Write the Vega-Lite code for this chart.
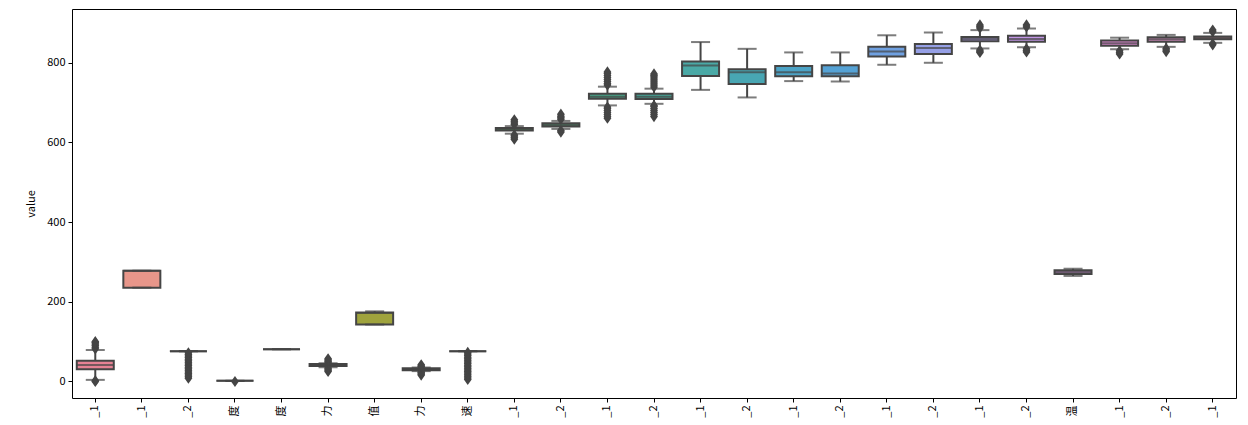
{
  "$schema": "https://vega.github.io/schema/vega-lite/v6.json",
  "width": 1164,
  "height": 389,
  "autosize": {"type": "none"},
  "padding": {"left": 72, "top": 9, "right": 12, "bottom": 27},
  "background": "white",
  "config": {
    "view": {"stroke": "#000000", "strokeWidth": 1},
    "font": "Noto Sans CJK SC",
    "axis": {"grid": false, "domain": false, "tickColor": "#000000", "tickSize": 4, "labelColor": "#000000", "labelFontSize": 11, "titleFontWeight": "normal", "titleFontSize": 11, "titleColor": "#000000"}
  },
  "datasets": {
    "box": [
      {"k": 0, "lo": 4, "q1": 30.6, "med": 41.4, "q3": 52.2, "hi": 79},
      {"k": 1, "lo": 235.5, "q1": 235.5, "med": 278, "q3": 278, "hi": 278},
      {"k": 2, "lo": 76, "q1": 76, "med": 76, "q3": 76, "hi": 76},
      {"k": 3, "lo": 1.5, "q1": 1.5, "med": 1.5, "q3": 1.5, "hi": 1.5},
      {"k": 4, "lo": 81, "q1": 81, "med": 81, "q3": 81, "hi": 81},
      {"k": 5, "lo": 36, "q1": 39, "med": 41, "q3": 44, "hi": 46},
      {"k": 6, "lo": 143, "q1": 143, "med": 172, "q3": 173, "hi": 176},
      {"k": 7, "lo": 26, "q1": 28, "med": 30.5, "q3": 33, "hi": 35},
      {"k": 8, "lo": 76, "q1": 76, "med": 76, "q3": 76, "hi": 76},
      {"k": 9, "lo": 622, "q1": 630, "med": 633, "q3": 636, "hi": 641},
      {"k": 10, "lo": 634, "q1": 640, "med": 644, "q3": 648, "hi": 654},
      {"k": 11, "lo": 693, "q1": 710, "med": 715, "q3": 722, "hi": 740},
      {"k": 12, "lo": 697, "q1": 709, "med": 715, "q3": 722, "hi": 735},
      {"k": 13, "lo": 732, "q1": 767, "med": 793, "q3": 803, "hi": 852},
      {"k": 14, "lo": 713, "q1": 747, "med": 776, "q3": 784, "hi": 835},
      {"k": 15, "lo": 754, "q1": 766, "med": 776, "q3": 792, "hi": 826},
      {"k": 16, "lo": 753, "q1": 766, "med": 773, "q3": 794, "hi": 826},
      {"k": 17, "lo": 795, "q1": 816, "med": 828, "q3": 840, "hi": 869},
      {"k": 18, "lo": 800, "q1": 822, "med": 837, "q3": 847, "hi": 876},
      {"k": 19, "lo": 836, "q1": 854, "med": 860, "q3": 865, "hi": 882},
      {"k": 20, "lo": 839, "q1": 853, "med": 860, "q3": 868, "hi": 886},
      {"k": 21, "lo": 265, "q1": 270, "med": 275, "q3": 279, "hi": 283},
      {"k": 22, "lo": 834, "q1": 843, "med": 849, "q3": 856, "hi": 863},
      {"k": 23, "lo": 840, "q1": 853, "med": 859, "q3": 864, "hi": 870},
      {"k": 24, "lo": 850, "q1": 859, "med": 862, "q3": 866, "hi": 875}
    ],
    "out": [
      {"k": 0, "v": 0}, {"k": 0, "v": 2}, {"k": 0, "v": 82}, {"k": 0, "v": 86}, {"k": 0, "v": 90}, {"k": 0, "v": 94}, {"k": 0, "v": 98}, {"k": 0, "v": 100},
      {"k": 2, "v": 8}, {"k": 2, "v": 12}, {"k": 2, "v": 16}, {"k": 2, "v": 20}, {"k": 2, "v": 24}, {"k": 2, "v": 28}, {"k": 2, "v": 32}, {"k": 2, "v": 36}, {"k": 2, "v": 40}, {"k": 2, "v": 44}, {"k": 2, "v": 48}, {"k": 2, "v": 52}, {"k": 2, "v": 56}, {"k": 2, "v": 60}, {"k": 2, "v": 64}, {"k": 2, "v": 68}, {"k": 2, "v": 72},
      {"k": 3, "v": 0},
      {"k": 5, "v": 25}, {"k": 5, "v": 28}, {"k": 5, "v": 31}, {"k": 5, "v": 34}, {"k": 5, "v": 48}, {"k": 5, "v": 51}, {"k": 5, "v": 54}, {"k": 5, "v": 57},
      {"k": 7, "v": 16}, {"k": 7, "v": 19}, {"k": 7, "v": 22}, {"k": 7, "v": 24}, {"k": 7, "v": 37}, {"k": 7, "v": 39}, {"k": 7, "v": 42},
      {"k": 8, "v": 5}, {"k": 8, "v": 9}, {"k": 8, "v": 13}, {"k": 8, "v": 17}, {"k": 8, "v": 21}, {"k": 8, "v": 25}, {"k": 8, "v": 29}, {"k": 8, "v": 33}, {"k": 8, "v": 37}, {"k": 8, "v": 41}, {"k": 8, "v": 45}, {"k": 8, "v": 49}, {"k": 8, "v": 53}, {"k": 8, "v": 57}, {"k": 8, "v": 61}, {"k": 8, "v": 65}, {"k": 8, "v": 69}, {"k": 8, "v": 73},
      {"k": 9, "v": 608}, {"k": 9, "v": 612}, {"k": 9, "v": 616}, {"k": 9, "v": 619}, {"k": 9, "v": 645}, {"k": 9, "v": 649}, {"k": 9, "v": 653}, {"k": 9, "v": 657},
      {"k": 10, "v": 626}, {"k": 10, "v": 630}, {"k": 10, "v": 658}, {"k": 10, "v": 662}, {"k": 10, "v": 666}, {"k": 10, "v": 671},
      {"k": 11, "v": 661}, {"k": 11, "v": 665}, {"k": 11, "v": 670}, {"k": 11, "v": 675}, {"k": 11, "v": 680}, {"k": 11, "v": 685}, {"k": 11, "v": 689}, {"k": 11, "v": 744}, {"k": 11, "v": 748}, {"k": 11, "v": 753}, {"k": 11, "v": 758}, {"k": 11, "v": 763}, {"k": 11, "v": 768}, {"k": 11, "v": 773}, {"k": 11, "v": 777},
      {"k": 12, "v": 665}, {"k": 12, "v": 670}, {"k": 12, "v": 675}, {"k": 12, "v": 680}, {"k": 12, "v": 685}, {"k": 12, "v": 690}, {"k": 12, "v": 693}, {"k": 12, "v": 739}, {"k": 12, "v": 744}, {"k": 12, "v": 749}, {"k": 12, "v": 754}, {"k": 12, "v": 759}, {"k": 12, "v": 764}, {"k": 12, "v": 768}, {"k": 12, "v": 772},
      {"k": 19, "v": 826}, {"k": 19, "v": 829}, {"k": 19, "v": 832}, {"k": 19, "v": 887}, {"k": 19, "v": 891}, {"k": 19, "v": 895},
      {"k": 20, "v": 827}, {"k": 20, "v": 831}, {"k": 20, "v": 835}, {"k": 20, "v": 890}, {"k": 20, "v": 895},
      {"k": 22, "v": 822}, {"k": 22, "v": 826}, {"k": 22, "v": 830},
      {"k": 23, "v": 828}, {"k": 23, "v": 832}, {"k": 23, "v": 836},
      {"k": 24, "v": 845}, {"k": 24, "v": 848}, {"k": 24, "v": 878}, {"k": 24, "v": 882}
    ]
  },
  "encoding": {
    "x": {
      "field": "k",
      "type": "ordinal",
      "scale": {"domain": [0,1,2,3,4,5,6,7,8,9,10,11,12,13,14,15,16,17,18,19,20,21,22,23,24], "paddingInner": 0, "paddingOuter": 0},
      "axis": {"title": null, "labelAngle": -90, "bandPosition": 0.5, "labelPadding": 3, "labelColor": "#000000", "labelExpr": "['_1','_1','_2','度','度','力','值','力','速','_1','_2','_1','_2','_1','_2','_1','_2','_1','_2','_1','_2','温','_1','_2','_1'][datum.value]"}
    }
  },
  "layer": [
    {
      "data": {"name": "box"},
      "mark": {"type": "rule", "color": "#454545", "strokeWidth": 2},
      "encoding": {
        "y": {"field": "lo", "type": "quantitative", "scale": {"domain": [-41.5, 935], "nice": false, "zero": false}, "axis": {"title": "value", "values": [0, 200, 400, 600, 800], "titlePadding": 10, "labelPadding": 3}},
        "y2": {"field": "hi"}
      }
    },
    {
      "data": {"name": "box"},
      "mark": {"type": "bar", "size": 37, "stroke": "#454545", "strokeWidth": 2},
      "encoding": {
        "y": {"field": "q1", "type": "quantitative"},
        "y2": {"field": "q3"},
        "fill": {"field": "k", "type": "ordinal", "legend": null, "scale": {"range": ["#e68294", "#e8968a", "#cf915a", "#ba8c46", "#ad9542", "#9e9a3f", "#9fa33d", "#7f9d3f", "#63a14b", "#4aa463", "#48a577", "#47a688", "#46a697", "#4aa9a6", "#48a6b3", "#4ca3c6", "#55a2d5", "#6fa0e0", "#96a0e6", "#ab99e7", "#c196e4", "#d28fe0", "#e08cd5", "#d58cc0", "#c88697"]}}
      }
    },
    {
      "data": {"name": "box"},
      "mark": {"type": "tick", "color": "#454545", "size": 37, "thickness": 2},
      "encoding": {"y": {"field": "med", "type": "quantitative"}}
    },
    {
      "data": {"name": "box"},
      "mark": {"type": "tick", "color": "#454545", "size": 19, "thickness": 2},
      "encoding": {"y": {"field": "lo", "type": "quantitative"}}
    },
    {
      "data": {"name": "box"},
      "mark": {"type": "tick", "color": "#454545", "size": 19, "thickness": 2},
      "encoding": {"y": {"field": "hi", "type": "quantitative"}}
    },
    {
      "data": {"name": "out"},
      "mark": {"type": "point", "shape": "M0,-1L0.7,0L0,1L-0.7,0Z", "filled": true, "color": "#454545", "opacity": 1, "size": 125},
      "encoding": {"y": {"field": "v", "type": "quantitative"}}
    }
  ]
}
